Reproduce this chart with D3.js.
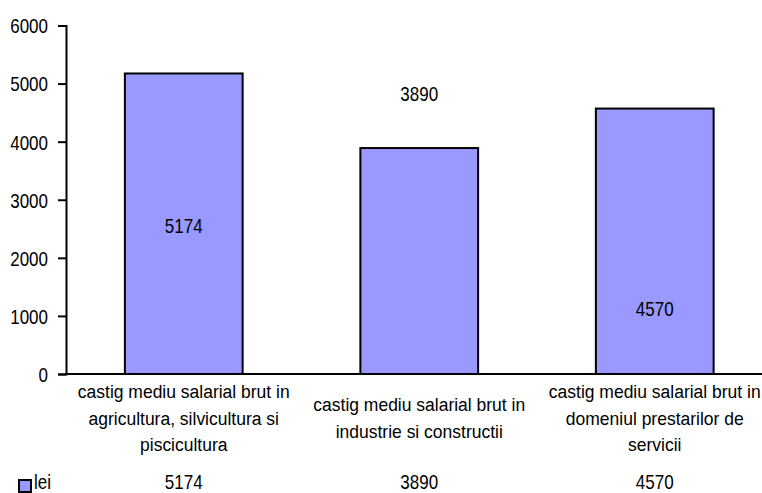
<!DOCTYPE html>
<html><head><meta charset="utf-8">
<script src="https://cdn.jsdelivr.net/npm/d3@7"></script>
<style>
html,body{margin:0;padding:0;background:#fff;}
svg{display:block;font-family:"Liberation Sans",Arial,sans-serif;}
</style></head>
<body>
<svg id="chart" width="762" height="493"></svg>
<script>
// ---- data ----
const categories = [
  ["castig mediu salarial brut in", "agricultura, silvicultura si", "piscicultura"],
  ["castig mediu salarial brut in", "industrie si constructii"],
  ["castig mediu salarial brut in", "domeniul prestarilor de", "servicii"]
];
const seriesName = "lei";
const values = [5174, 3890, 4570];
const yTicks = [0, 1000, 2000, 3000, 4000, 5000, 6000];

// ---- layout (not data) ----
const labelAt = [2550, 4830, 1120]; // vertical placement of data labels, in axis units
const W = 762, H = 493;
const x0 = 66, x1 = 772.5, yBase = 374, yTop = 25.5;
const NUM_FS = 17, NUM_SY = 1.2, CAT_FS = 17.5, CAT_SY = 1.1;

const svg = d3.select("#chart");
const x = d3.scaleBand().domain(d3.range(values.length)).range([x0, x1])
  .paddingInner(0.5).paddingOuter(0.25);
const y = d3.scaleLinear().domain([0, 6000]).range([yBase, yTop]);

function stretched(sel, px, py, sy) {
  sel.attr("transform", (d, i) => `translate(${px(d, i)},${py(d, i)}) scale(1,${sy})`)
     .attr("x", 0).attr("y", 0);
}

// bars
svg.append("g").selectAll("rect").data(values).join("rect")
  .attr("x", (d, i) => x(i))
  .attr("y", d => y(d))
  .attr("width", x.bandwidth())
  .attr("height", d => y(0) - y(d))
  .attr("fill", "#9999FF")
  .attr("stroke", "#000")
  .attr("stroke-width", 2);

// y axis
const yAxis = d3.axisLeft(y).tickValues(yTicks).tickSize(8).tickPadding(10).tickFormat(d3.format("d"));
const gy = svg.append("g").attr("transform", `translate(${x0},0)`).call(yAxis);
gy.select(".domain").attr("stroke", "#000").attr("stroke-width", 2);
gy.selectAll(".tick line").attr("stroke", "#000").attr("stroke-width", 2);
gy.selectAll(".tick text").attr("font-size", NUM_FS).attr("fill", "#000")
  .attr("font-family", "Liberation Sans, Arial, sans-serif")
  .attr("dy", null)
  .attr("transform", `translate(-18,${0.36 * NUM_FS * NUM_SY}) scale(1,${NUM_SY})`)
  .attr("x", 0);

// x axis line
svg.append("line").attr("x1", x0 - 1).attr("x2", W).attr("y1", yBase).attr("y2", yBase)
  .attr("stroke", "#000").attr("stroke-width", 2);

// data labels
svg.append("g").selectAll("text").data(values).join("text")
  .attr("text-anchor", "middle")
  .attr("font-size", NUM_FS).attr("fill", "#000")
  .text(d => d)
  .call(stretched, (d, i) => x(i) + x.bandwidth() / 2, (d, i) => y(labelAt[i]) + 7.5, NUM_SY);

// category labels
const lineH = 26.7, midY = 424.7;
const cg = svg.append("g").selectAll("g").data(categories).join("g")
  .attr("transform", (d, i) => `translate(${x(i) + x.bandwidth() / 2},0)`);
cg.selectAll("text").data(d => d.map((t, j) => ({t, j, n: d.length}))).join("text")
  .attr("text-anchor", "middle")
  .attr("font-size", CAT_FS).attr("fill", "#000")
  .text(d => d.t)
  .call(stretched, () => 0, d => midY + (d.j - (d.n - 1) / 2) * lineH, CAT_SY);

// data table row
svg.append("rect").attr("x", 19).attr("y", 480).attr("width", 12).attr("height", 12)
  .attr("fill", "#9999FF").attr("stroke", "#000").attr("stroke-width", 2);
svg.append("text").attr("font-size", NUM_FS).attr("fill", "#000").text(seriesName)
  .call(stretched, () => 34, () => 489, NUM_SY);
svg.append("g").selectAll("text").data(values).join("text")
  .attr("text-anchor", "middle")
  .attr("font-size", NUM_FS).attr("fill", "#000")
  .text(d => d)
  .call(stretched, (d, i) => x(i) + x.bandwidth() / 2, () => 489, NUM_SY);
</script>
</body></html>
